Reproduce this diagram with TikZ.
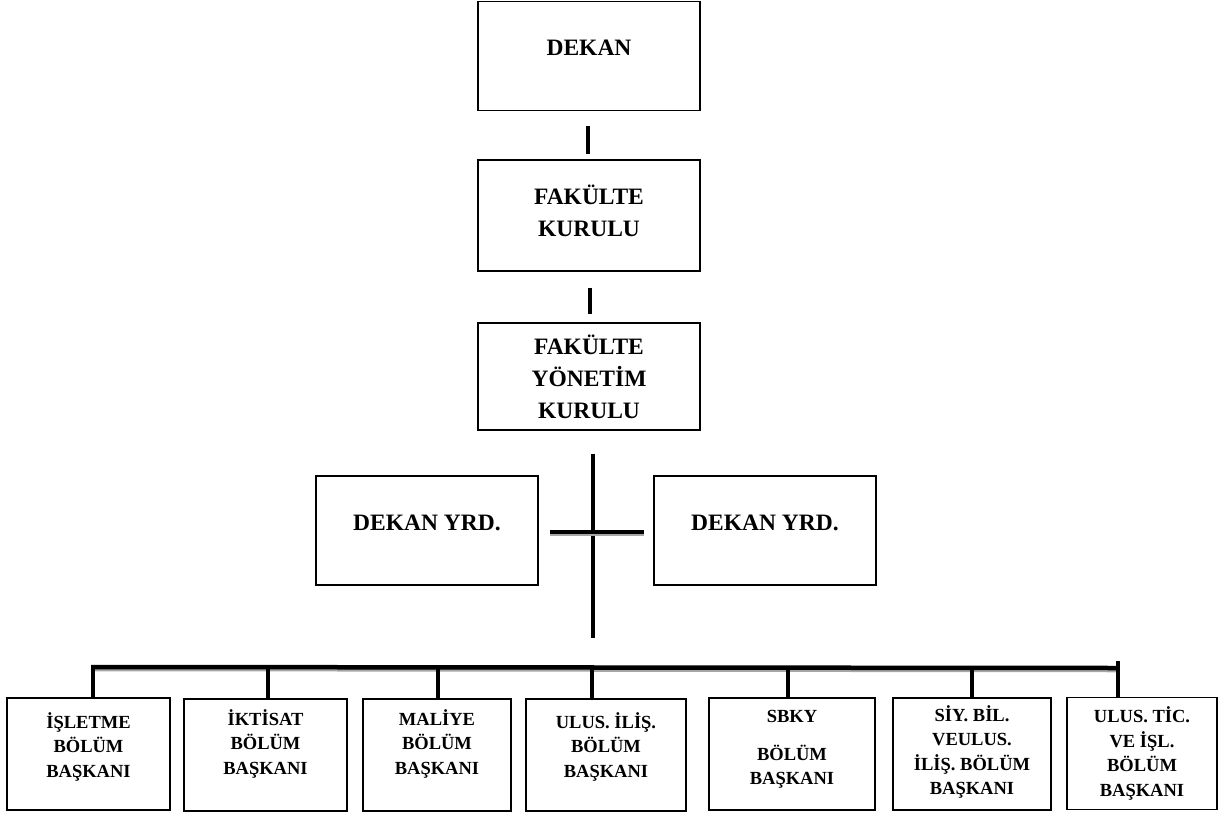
\documentclass[tikz,border=0pt]{standalone}
\usepackage{fontspec}
\setmainfont{Liberation Serif}
\usetikzlibrary{calc,positioning}

\begin{document}
\begin{tikzpicture}[x=1pt,y=-1pt,
	box/.style={draw, line width=1.2pt, align=center, minimum width=222pt,
		font=\bfseries\fontsize{23.5}{32}\selectfont},
	unit/.style={draw, line width=1.2pt, align=center, minimum height=112pt,
		font=\bfseries\fontsize{18.5}{24.5}\selectfont},
	lift/.style={text depth=#1},
	link/.style={line width=4pt},
	bar/.style={line width=4.5pt,
		preaction={draw=black!35, line width=4.5pt, transform canvas={yshift=-2pt}}}]
	
	\useasboundingbox (0,0) rectangle (1230,816);
	
	% top of the chart
	\node[box, minimum height=109pt, lift=17pt] (dekan) at (589,56) {DEKAN};
	\node[box, minimum height=111pt, lift=9pt] (kurul) at (589,215.5) {FAKÜLTE\\KURULU};
	\node[box, minimum height=107pt] (yonetim) at (589,376.5) {FAKÜLTE\\YÖNETİM\\KURULU};
	\node[box, minimum height=109pt, lift=15pt] (yrdsol) at (427,530.5) {DEKAN YRD.};
	\node[box, minimum height=109pt, lift=15pt] (yrdsag) at (765,530.5) {DEKAN YRD.};
	
	\draw[link] ($(dekan.south)+(-1,15)$) -- ($(kurul.north)+(-1,-5)$);
	\draw[link] ($(kurul.south)+(1,16)$) -- ($(yonetim.north)+(1,-8)$);
	
	\coordinate (hub) at (593,638);
	\draw[link] ($(yonetim.south)+(4,23)$) -- (hub);
	\draw[bar] ($(yrdsol.east)+(11,1.5)$) -- ($(yrdsag.west)+(-9,1.5)$);
	
	% department heads
	\node[unit, minimum width=163pt, lift=18pt] (islet) at (88.5,754) {İŞLETME\\BÖLÜM\\BAŞKANI};
	\node[unit, minimum width=163pt, lift=26pt] (iktis) at (265.5,755) {İKTİSAT\\BÖLÜM\\BAŞKANI};
	\node[unit, minimum width=148pt, lift=26pt] (maliye) at (437,755) {MALİYE\\BÖLÜM\\BAŞKANI};
	\node[unit, minimum width=160pt, lift=20pt] (ulusilis) at (606,755) {ULUS. İLİŞ.\\BÖLÜM\\BAŞKANI};
	\node[unit, minimum width=166pt, lift=13pt] (sbky) at (792,754) {SBKY\\[13pt]BÖLÜM\\BAŞKANI};
	\node[unit, minimum width=158pt, lift=8pt] (siybil) at (972,754) {SİY. BİL.\\VEULUS.\\İLİŞ. BÖLÜM\\BAŞKANI};
	\node[unit, minimum width=150pt] (ulustic) at (1142,753.5) {ULUS. TİC.\\VE İŞL.\\BÖLÜM\\BAŞKANI};
	
	\coordinate (busL) at (93,667);
	\coordinate (busR) at (1118,668);
	\draw[bar] ($(busL)+(-2,0)$) -- (busR);
	\draw[link] (busL) -- (islet.north -| busL);
	\foreach \x/\b in {268/iktis, 438/maliye, 592/ulusilis, 788/sbky, 972/siybil}
		\draw[link] (busL -| \x,0) -- (\b.north -| \x,0);
	\draw[link] ($(busR)+(0,-7)$) -- (ulustic.north -| busR);
	
\end{tikzpicture}
\end{document}
